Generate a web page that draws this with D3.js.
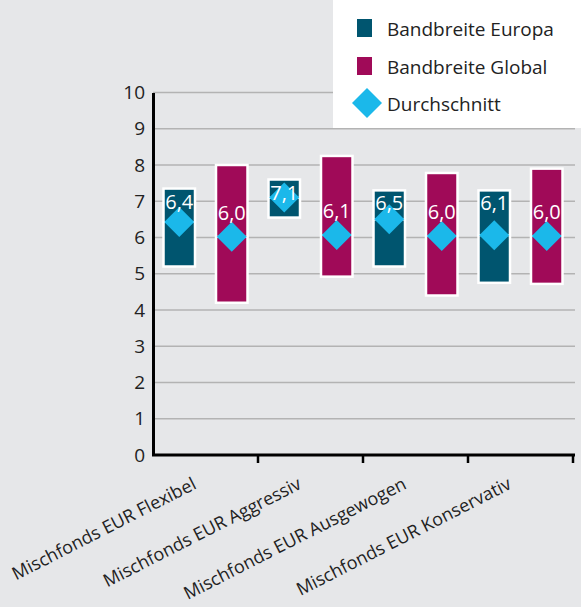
<!DOCTYPE html>
<html>
<head>
<meta charset="utf-8">
<script src="https://cdn.jsdelivr.net/npm/d3@7"></script>
<style>
  body { margin: 0; background: #e6e7e9; }
  svg { display: block; font-family: "Open Sans", sans-serif; }
</style>
</head>
<body>
<div id="chart"></div>
<script>
// data
var categories = ['Mischfonds EUR Flexibel', 'Mischfonds EUR Aggressiv', 'Mischfonds EUR Ausgewogen', 'Mischfonds EUR Konservativ'];
var series = ['Europa', 'Global'];
var europaLow  = [5.2, 6.55, 5.2, 4.75];
var europaHigh = [7.35, 7.6, 7.3, 7.3];
var europaAvg  = [6.43, 7.1, 6.5, 6.06];
var globalLow  = [4.2, 4.92, 4.4, 4.72];
var globalHigh = [8.0, 8.25, 7.78, 7.9];
var globalAvg  = [6.02, 6.07, 6.04, 6.04];
var yTicks = [0, 1, 2, 3, 4, 5, 6, 7, 8, 9, 10];
var legendLabels = ['Bandbreite Europa', 'Bandbreite Global', 'Durchschnitt'];

var colors = { Europa: '#00556f', Global: '#a00a58' };
var diamondColor = '#1bb8ea';

var width = 581, height = 607;

var svg = d3.select('#chart').append('svg')
    .attr('width', width)
    .attr('height', height);

svg.append('rect')
    .attr('width', width).attr('height', height)
    .attr('fill', '#e6e7e9');

var x = d3.scaleBand().domain(categories).range([153, 573]);
var x1 = d3.scaleBand().domain(series).range([0, x.bandwidth()])
    .paddingInner(0.4).paddingOuter(0.2);
var y = d3.scaleLinear().domain([0, 10]).range([455, 92.5]);

var rows = [];
categories.forEach(function(c, i) {
  rows.push({cat: c, s: 'Europa', lo: europaLow[i], hi: europaHigh[i], avg: europaAvg[i]});
  rows.push({cat: c, s: 'Global', lo: globalLow[i], hi: globalHigh[i], avg: globalAvg[i]});
});

// gridlines
svg.append('g')
    .selectAll('line')
    .data(yTicks.slice(1))
    .enter().append('line')
    .attr('x1', 153).attr('x2', 575)
    .attr('y1', function(d) { return y(d); })
    .attr('y2', function(d) { return y(d); })
    .attr('stroke', '#b3b3b3')
    .attr('stroke-width', 1.5);

// y axis
var yAxis = svg.append('g')
    .attr('transform', 'translate(153,0)')
    .call(d3.axisLeft(y).tickValues(yTicks).tickSize(0).tickPadding(8));
yAxis.select('.domain').attr('stroke', '#000').attr('stroke-width', 3);
yAxis.selectAll('text')
    .attr('font-size', 19)
    .attr('fill', '#222')
    .attr('font-family', '"Open Sans", sans-serif');

// x axis
var xAxis = svg.append('g')
    .attr('transform', 'translate(0,455)');
xAxis.append('line')
    .attr('x1', 152).attr('x2', 575)
    .attr('stroke', '#000').attr('stroke-width', 3);
xAxis.selectAll('.tk')
    .data(categories)
    .enter().append('line')
    .attr('class', 'tk')
    .attr('x1', function(d) { return x(d) + x.bandwidth(); })
    .attr('x2', function(d) { return x(d) + x.bandwidth(); })
    .attr('y1', 0).attr('y2', 8)
    .attr('stroke', '#000').attr('stroke-width', 2.5);

xAxis.selectAll('.lbl')
    .data(categories)
    .enter().append('text')
    .attr('class', 'lbl')
    .attr('text-anchor', 'end')
    .attr('font-size', 18)
    .attr('fill', '#222')
    .attr('transform', function(d) {
      return 'translate(' + (x(d) + x.bandwidth() / 2 - 8) + ',33) rotate(-27)';
    })
    .text(function(d) { return d; });

// range bars
var bw = x1.bandwidth();
svg.append('g')
    .selectAll('rect')
    .data(rows)
    .enter().append('rect')
    .attr('x', function(d) { return x(d.cat) + x1(d.s); })
    .attr('width', bw)
    .attr('y', function(d) { return y(d.hi); })
    .attr('height', function(d) { return y(d.lo) - y(d.hi); })
    .attr('fill', function(d) { return colors[d.s]; })
    .attr('stroke', '#fff')
    .attr('stroke-width', 2.5);

// white line at the average
svg.append('g')
    .selectAll('line')
    .data(rows)
    .enter().append('line')
    .attr('x1', function(d) { return x(d.cat) + x1(d.s) - 1; })
    .attr('x2', function(d) { return x(d.cat) + x1(d.s) + bw + 1; })
    .attr('y1', function(d) { return y(d.avg); })
    .attr('y2', function(d) { return y(d.avg); })
    .attr('stroke', '#fff')
    .attr('stroke-width', 2);

var diamond = d3.symbol().type(d3.symbolSquare).size(450);

svg.append('g')
    .selectAll('path')
    .data(rows)
    .enter().append('path')
    .attr('d', diamond)
    .attr('transform', function(d) {
      return 'translate(' + (x(d.cat) + x1(d.s) + bw / 2) + ',' + y(d.avg) + ') rotate(45)';
    })
    .attr('fill', diamondColor);

// value labels
var fmt = function(v) { return v.toFixed(1).replace('.', ','); };
svg.append('g')
    .selectAll('text')
    .data(rows)
    .enter().append('text')
    .attr('x', function(d) { return x(d.cat) + x1(d.s) + bw / 2; })
    .attr('y', function(d) {
      var cy = d.s === 'Europa' ? y(d.hi) + 13 : y(d.avg) - 24;
      return cy + 7;
    })
    .attr('text-anchor', 'middle')
    .attr('font-size', 20)
    .attr('fill', '#fff')
    .text(function(d) { return fmt(d.avg); });

// legend
var legend = svg.append('g');
legend.append('rect')
    .attr('x', 333).attr('y', 0)
    .attr('width', width - 333).attr('height', 128)
    .attr('fill', '#fff');

var legendY = [28, 66, 103];
legend.append('rect')
    .attr('x', 357).attr('y', legendY[0] - 9).attr('width', 15).attr('height', 18)
    .attr('fill', colors.Europa);
legend.append('rect')
    .attr('x', 357).attr('y', legendY[1] - 9).attr('width', 15).attr('height', 18)
    .attr('fill', colors.Global);
legend.append('path')
    .attr('d', diamond)
    .attr('transform', 'translate(367,' + legendY[2] + ') rotate(45)')
    .attr('fill', diamondColor);

legend.selectAll('text')
    .data(legendLabels)
    .enter().append('text')
    .attr('x', 387)
    .attr('y', function(d, i) { return legendY[i] + 8; })
    .attr('font-size', 19)
    .attr('fill', '#222')
    .text(function(d) { return d; });
</script>
</body>
</html>
